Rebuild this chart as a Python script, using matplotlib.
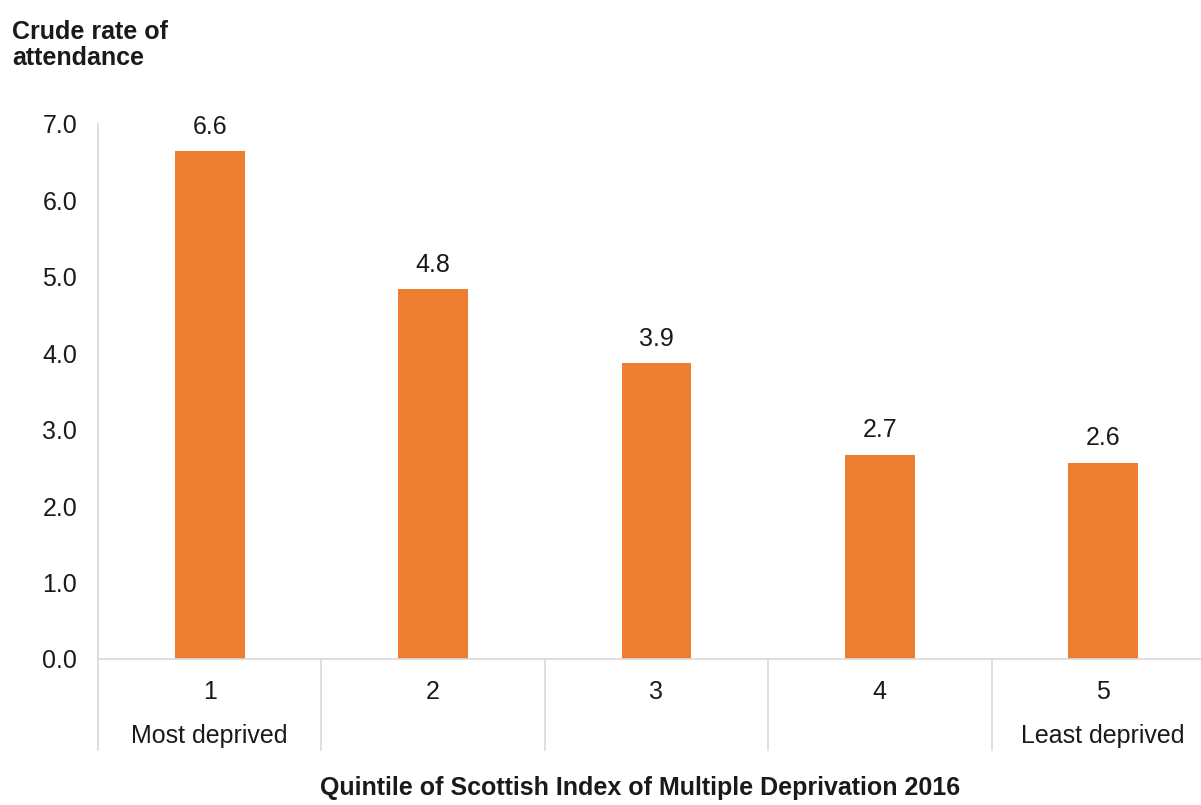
import matplotlib.pyplot as plt
import matplotlib.transforms as mtransforms

# Données
quintiles = ["1", "2", "3", "4", "5"]
sous_titres = ["Most deprived", "", "", "", "Least deprived"]
taux = [6.64, 4.84, 3.87, 2.67, 2.57]

orange = "#ED7D31"
gris = "#D9D9D9"
texte = "#1A1A1A"

plt.rcParams['font.family'] = ['Liberation Sans', 'DejaVu Sans']

fig = plt.figure(figsize=(12.01, 8.05), dpi=100)
ax = fig.add_axes([0.0816, 0.1814, 0.930, 0.6646])

x = list(range(len(quintiles)))
bars = ax.bar(x, taux, width=0.313, color=orange, zorder=2)
ax.bar_label(bars, labels=[f"{v:.1f}" for v in taux], padding=9,
             fontsize=18, color=texte)

ax.set_xlim(-0.5, len(quintiles) - 0.5)
ax.set_ylim(0, 7.0)
ax.set_yticks([i * 1.0 for i in range(8)])
ax.set_yticklabels([f"{i:.1f}" for i in range(8)])

labels = [f"{q}\n{s}" for q, s in zip(quintiles, sous_titres)]
ax.set_xticks(x)
ax.set_xticklabels(labels, linespacing=2.05)

ax.tick_params(axis='both', length=0, labelsize=18, colors=texte)
ax.tick_params(axis='x', pad=15)
ax.tick_params(axis='y', pad=15)

for s in ['top', 'right']:
    ax.spines[s].set_visible(False)
for s in ['left', 'bottom']:
    ax.spines[s].set_color(gris)
    ax.spines[s].set_linewidth(1.2)

# séparateurs entre catégories
trans = mtransforms.blended_transform_factory(ax.transData, ax.transAxes)
for b in range(len(quintiles) + 1):
    ax.plot([b - 0.5, b - 0.5], [0, -0.17], color=gris, lw=1.2,
            transform=trans, clip_on=False)

fig.text(0.010, 0.975, "Crude rate of\nattendance", fontsize=18,
         fontweight='bold', color=texte, va='top', ha='left', linespacing=1.12)
fig.text(0.533, 0.006, "Quintile of Scottish Index of Multiple Deprivation 2016",
         fontsize=18, fontweight='bold', color=texte, ha='center', va='bottom')

fig.savefig("out.png", dpi=100)
